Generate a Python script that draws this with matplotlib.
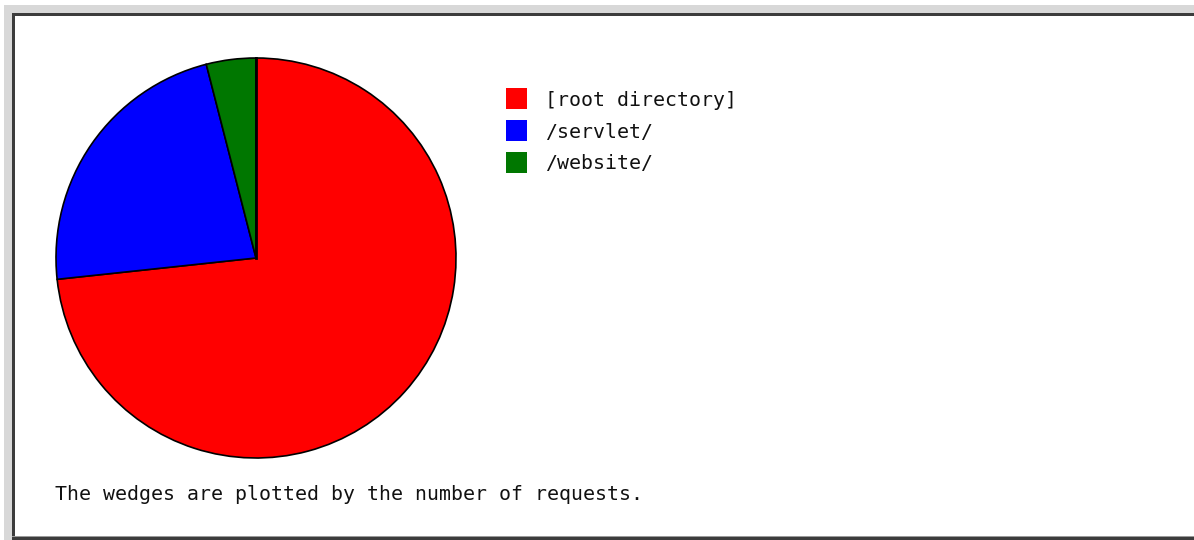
import matplotlib
matplotlib.use("Agg")
import matplotlib.pyplot as plt
from matplotlib.patches import Rectangle

W, H = 1194, 540

# share of requests per directory
labels = ["[root directory]", "/servlet/", "/website/"]
requests = [73.3, 22.7, 4.0]
colors = ["#ff0000", "#0000ff", "#007700"]

fig = plt.figure(figsize=(W / 100, H / 100), dpi=100)
fig.patch.set_facecolor("white")


def px_rect(x, y, w, h, color):
    # rectangle given in pixels from the top-left corner
    fig.add_artist(Rectangle((x / W, 1 - (y + h) / H), w / W, h / H,
                             transform=fig.transFigure, facecolor=color,
                             edgecolor="none", zorder=0))


# sunken frame around the chart
px_rect(4, 5, W - 4, 9, "#d8d8d8")
px_rect(4, 5, 8, H - 5, "#d8d8d8")
px_rect(12, 13, W - 12, 3, "#3c3c3c")
px_rect(12, 13, 3, H - 13, "#3c3c3c")
px_rect(12, H - 4, W - 12, 1, "#9a9a9a")
px_rect(12, H - 3, W - 12, 3, "#3c3c3c")

# pie, centre (256, 258), radius about 201 px
cx, cy, r = 256, 258, 201
ax = fig.add_axes([(cx - r) / W, 1 - (cy + r) / H, 2 * r / W, 2 * r / H])
ax.pie(requests, colors=colors, startangle=90, counterclock=False,
       radius=1, wedgeprops=dict(edgecolor="black", linewidth=1.2))
ax.plot([0, 0], [0, 1], color="black", linewidth=2)
ax.set_xlim(-1.005, 1.005)
ax.set_ylim(-1.005, 1.005)
ax.axis("off")

# legend
font = dict(family="DejaVu Sans Mono", size=14.3, color="#111111")
for i, (lab, col) in enumerate(zip(labels, colors)):
    yc = 99 + i * 31.5
    px_rect(506, yc - 10.5, 21, 21, col)
    fig.text(545 / W, 1 - (yc + 1.5) / H, lab, va="center", ha="left", **font)

fig.text(55 / W, 1 - 495 / H, "The wedges are plotted by the number of requests.",
         va="center", ha="left", **font)

fig.savefig("out.png", dpi=100)
